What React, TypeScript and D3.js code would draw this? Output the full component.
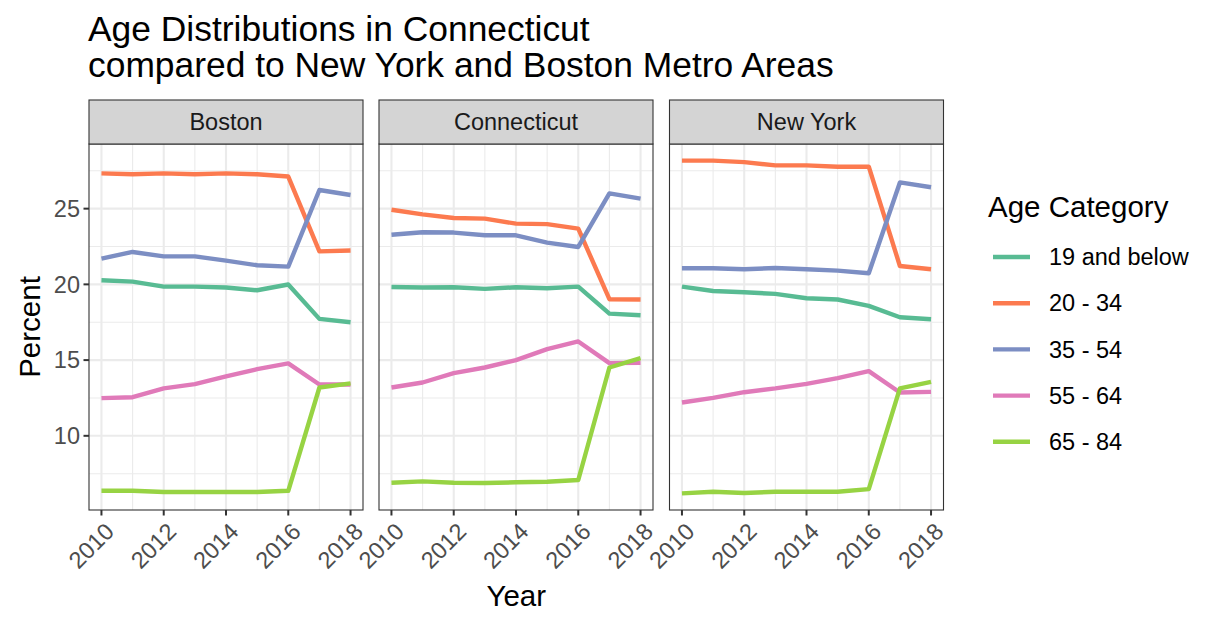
import React from "react";
import * as d3 from "d3";

const years = [2010, 2011, 2012, 2013, 2014, 2015, 2016, 2017, 2018];
const regions = ["Boston", "Connecticut", "New York"];
const categories = ["19 and below", "20 - 34", "35 - 54", "55 - 64", "65 - 84"];
const colors = ["#58BB93", "#FC7A4F", "#7C8EC3", "#E07AB9", "#97D343"];
const yTicks = [10, 15, 20, 25];
const yMinor = [7.5, 12.5, 17.5, 22.5, 27.5];
const xTicks = [2010, 2012, 2014, 2016, 2018];

const boston = [
  [20.27, 20.18, 19.85, 19.85, 19.79, 19.61, 19.99, 17.72, 17.5],
  [27.33, 27.27, 27.33, 27.27, 27.33, 27.27, 27.12, 22.18, 22.24],
  [21.7, 22.14, 21.85, 21.85, 21.57, 21.26, 21.17, 26.23, 25.9],
  [12.49, 12.55, 13.13, 13.41, 13.92, 14.4, 14.78, 13.39, 13.39],
  [6.37, 6.37, 6.29, 6.29, 6.29, 6.29, 6.37, 13.19, 13.46],
];
const connecticut = [
  [19.83, 19.79, 19.81, 19.7, 19.81, 19.74, 19.85, 18.07, 17.96],
  [24.93, 24.62, 24.38, 24.34, 24.01, 23.98, 23.68, 19.02, 19.0],
  [23.28, 23.44, 23.42, 23.24, 23.24, 22.76, 22.47, 26.01, 25.66],
  [13.19, 13.52, 14.14, 14.51, 15.0, 15.72, 16.23, 14.8, 14.82],
  [6.9, 6.99, 6.9, 6.88, 6.93, 6.97, 7.08, 14.51, 15.13],
];
const newYork = [
  [19.85, 19.56, 19.48, 19.37, 19.08, 19.0, 18.58, 17.83, 17.7],
  [28.17, 28.17, 28.07, 27.86, 27.86, 27.77, 27.77, 21.21, 21.0],
  [21.06, 21.06, 21.0, 21.08, 21.0, 20.91, 20.73, 26.73, 26.41],
  [12.2, 12.51, 12.88, 13.13, 13.43, 13.81, 14.27, 12.86, 12.9],
  [6.2, 6.31, 6.22, 6.31, 6.31, 6.31, 6.48, 13.13, 13.56],
];
const regionData = [boston, connecticut, newYork];

const FONT = "Liberation Sans, Arial, Helvetica, sans-serif";

export default function App() {
  const W = 1218, H = 626;
  const panelLefts = [89, 379, 669.5];
  const panelW = 274;
  const stripTop = 100, stripH = 44;
  const plotTop = stripTop + stripH, plotBottom = 510;

  const allVals = regionData.flat(2);
  const vmin = d3.min(allVals)!, vmax = d3.max(allVals)!;
  const pad = (vmax - vmin) * 0.05;
  const y = d3.scaleLinear().domain([vmin - pad, vmax + pad]).range([plotBottom, plotTop]);

  return (
    <svg width={W} height={H} style={{ position: "absolute", left: 0, top: 0, background: "#fff" }} fontFamily={FONT}>
      <rect width={W} height={H} fill="#fff" />
      <text x={88} y={41} fontSize={35.4} fill="#000">Age Distributions in Connecticut</text>
      <text x={88} y={77} fontSize={35.4} fill="#000">compared to New York and Boston Metro Areas</text>

      {regions.map((r, ri) => {
        const left = panelLefts[ri];
        const x = d3.scaleLinear().domain([2009.6, 2018.4]).range([left, left + panelW]);
        const line = d3.line<number>().x((_, i) => x(years[i])).y((v) => y(v));
        return (
          <g key={r}>
            <rect x={left} y={plotTop} width={panelW} height={plotBottom - plotTop} fill="#fff" />
            {yMinor.map((v) => (
              <line key={"ym" + v} x1={left} x2={left + panelW} y1={y(v)} y2={y(v)} stroke="#EBEBEB" strokeWidth={1.1} />
            ))}
            {years.filter((yr) => !xTicks.includes(yr)).map((yr) => (
              <line key={"xm" + yr} x1={x(yr)} x2={x(yr)} y1={plotTop} y2={plotBottom} stroke="#EBEBEB" strokeWidth={1.1} />
            ))}
            {yTicks.map((v) => (
              <line key={"y" + v} x1={left} x2={left + panelW} y1={y(v)} y2={y(v)} stroke="#EBEBEB" strokeWidth={2.1} />
            ))}
            {xTicks.map((yr) => (
              <line key={"x" + yr} x1={x(yr)} x2={x(yr)} y1={plotTop} y2={plotBottom} stroke="#EBEBEB" strokeWidth={2.1} />
            ))}
            {regionData[ri].map((series, ci) => (
              <path key={ci} d={line(series)!} fill="none" stroke={colors[ci]} strokeWidth={4.4} strokeLinejoin="round" />
            ))}
            <rect x={left} y={plotTop} width={panelW} height={plotBottom - plotTop} fill="none" stroke="#333" strokeWidth={1.1} />
            <rect x={left} y={stripTop} width={panelW} height={stripH} fill="#D4D4D4" stroke="#333" strokeWidth={1.1} />
            <text x={left + panelW / 2} y={stripTop + stripH / 2} dy="0.35em" textAnchor="middle" fontSize={23.5} fill="#1A1A1A">{r}</text>
            {xTicks.map((yr) => (
              <g key={"xt" + yr}>
                <line x1={x(yr)} x2={x(yr)} y1={plotBottom} y2={plotBottom + 5.5} stroke="#333" strokeWidth={2} />
                <text transform={`translate(${x(yr) + 2},${plotBottom + 11}) rotate(-45)`} textAnchor="end" dy="0.72em" fontSize={23.5} fill="#4D4D4D">{yr}</text>
              </g>
            ))}
            {ri === 0 && yTicks.map((v) => (
              <g key={"yt" + v}>
                <line x1={left - 5.5} x2={left} y1={y(v)} y2={y(v)} stroke="#333" strokeWidth={2} />
                <text x={left - 9} y={y(v)} dy="0.35em" textAnchor="end" fontSize={23.5} fill="#4D4D4D">{v}</text>
              </g>
            ))}
          </g>
        );
      })}

      <text transform={`translate(40,${(plotTop + plotBottom) / 2}) rotate(-90)`} textAnchor="middle" fontSize={29.5} fill="#000">Percent</text>
      <text x={(89 + 943.5) / 2} y={606} textAnchor="middle" fontSize={29.5} fill="#000">Year</text>

      <text x={988} y={217} fontSize={29.5} fill="#000">Age Category</text>
      {categories.map((c, i) => {
        const ky = 257 + i * 46.2;
        return (
          <g key={c}>
            <line x1={993} x2={1030} y1={ky} y2={ky} stroke={colors[i]} strokeWidth={4.4} />
            <text x={1049} y={ky} dy="0.35em" fontSize={23.5} fill="#000">{c}</text>
          </g>
        );
      })}
    </svg>
  );
}
